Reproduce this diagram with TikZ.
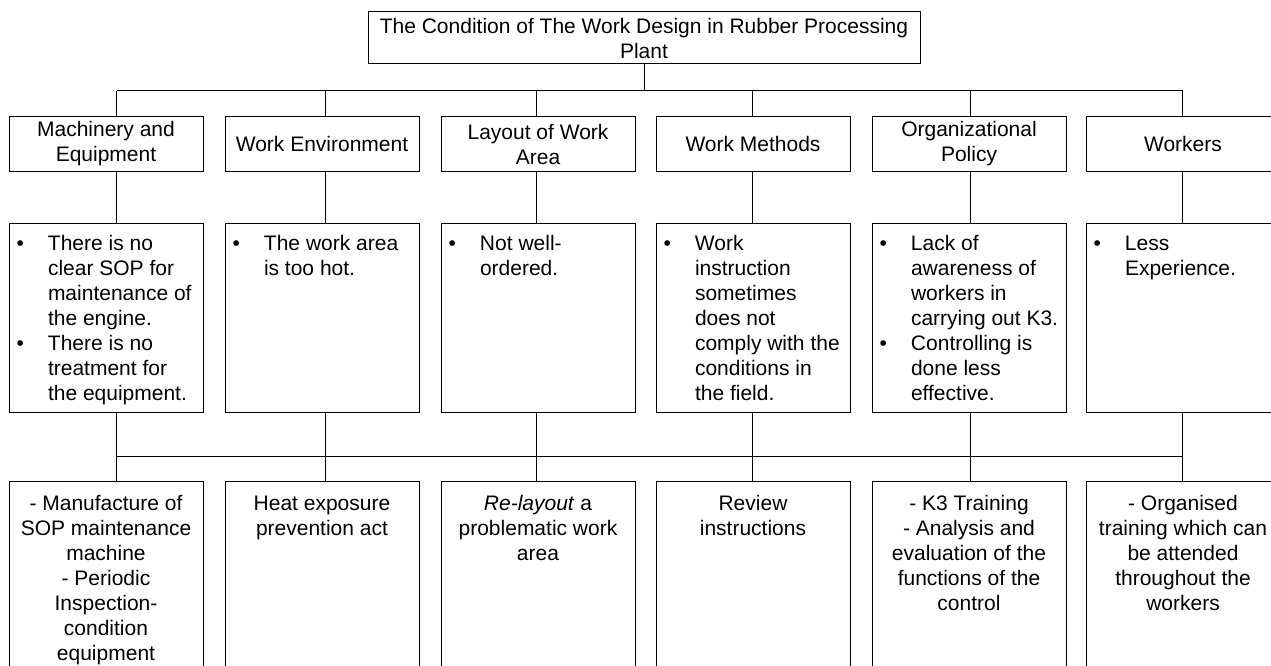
\documentclass[tikz,border=0pt]{standalone}
\usepackage{fontspec}
\setmainfont{Liberation Sans}
\newcommand\diafont{\fontsize{21}{25}\selectfont}
\newcommand\bul{\llap{\textbullet\hspace{24pt}}}
\begin{document}
\begin{tikzpicture}[x=1pt,y=-1pt,
  every node/.style={inner sep=0pt,outer sep=0pt},
  frame/.style={draw=black,line width=1pt,anchor=north west,inner sep=0pt},
  head/.style={frame,minimum width=194pt,minimum height=54pt,font=\diafont,align=center},
  midbox/.style={frame,minimum width=194pt,minimum height=189pt},
  lowbox/.style={frame,minimum width=194pt,minimum height=260pt},
  bullettext/.style={anchor=north west,font=\diafont,align=left},
  centertext/.style={anchor=north,font=\diafont,align=center},
  conn/.style={draw=black,line width=1pt}]
\useasboundingbox (0,0) rectangle (1271,666);

% top
\node[frame,minimum width=552pt,minimum height=52pt,font=\diafont,align=center] (top) at (368,12)
  {The Condition of The Work Design in Rubber Processing\\Plant};

% column positions
\coordinate (bus1) at (0,90.7);
\coordinate (bus2) at (0,456);
\coordinate (k1) at (116.5,0);
\coordinate (k2) at (325.5,0);
\coordinate (k3) at (536.5,0);
\coordinate (k4) at (752,0);
\coordinate (k5) at (970,0);
\coordinate (k6) at (1182.5,0);

% level 2
\node[head] (m1) at (9,117) {Machinery and\\Equipment};
\node[head] (m2) at (225,117) {Work Environment};
\node[head] (m3) at (441,117) {Layout of Work\\Area};
\node[head] (m4) at (656,117) {Work Methods};
\node[head] (m5) at (872,117) {Organizational\\Policy};
\node[head] (m6) at (1086,117) {Workers};

% level 3
\node[midbox] (p1) at (9,223) {};
\node[midbox] (p2) at (225,223) {};
\node[midbox] (p3) at (441,223) {};
\node[midbox] (p4) at (656,223) {};
\node[midbox] (p5) at (872,223) {};
\node[midbox] (p6) at (1086,223) {};

\node[bullettext] (pt1) at (48,232.5) {\strut\bul There is no\\clear SOP for\\maintenance of\\the engine.\\\bul There is no\\treatment for\\the equipment.};
\node[bullettext] (pt2) at (264,232.5) {\strut\bul The work area\\is too hot.};
\node[bullettext] (pt3) at (480,232.5) {\strut\bul Not well-\\ordered.};
\node[bullettext] (pt4) at (695,232.5) {\strut\bul Work\\instruction\\sometimes\\does not\\comply with the\\conditions in\\the field.};
\node[bullettext] (pt5) at (911,232.5) {\strut\bul Lack of\\awareness of\\workers in\\carrying out K3.\\\bul Controlling is\\done less\\effective.};
\node[bullettext] (pt6) at (1125,232.5) {\strut\bul Less\\Experience.};

% level 4
\node[lowbox] (s1) at (9,481) {};
\node[lowbox] (s2) at (225,481) {};
\node[lowbox] (s3) at (441,481) {};
\node[lowbox] (s4) at (656,481) {};
\node[lowbox] (s5) at (872,481) {};
\node[lowbox] (s6) at (1086,481) {};

\node[centertext] (st1) at (s1.north |- 0,492.5) {\strut- Manufacture of\\SOP maintenance\\machine\\- Periodic\\Inspection-\\condition\\equipment};
\node[centertext] (st2) at (s2.north |- 0,492.5) {\strut Heat exposure\\prevention act};
\node[centertext] (st3) at (s3.north |- 0,492.5) {\strut\textit{Re-layout} a\\problematic work\\area};
\node[centertext] (st4) at (s4.north |- 0,492.5) {\strut Review\\instructions};
\node[centertext] (st5) at (s5.north |- 0,492.5) {\strut- K3 Training\\- Analysis and\\evaluation of the\\functions of the\\control};
\node[centertext] (st6) at (s6.north |- 0,492.5) {\strut- Organised\\training which can\\be attended\\throughout the\\workers};

% connectors
\draw[conn] (top.south) -- (top.south |- bus1);
\draw[conn] (k1 |- bus1) -- (k6 |- bus1);
\draw[conn] (k1 |- bus2) -- (k6 |- bus2);
\foreach \i in {1,...,6}{
  \draw[conn] (k\i |- bus1) -- (k\i |- m\i.north);
  \draw[conn] (k\i |- m\i.south) -- (k\i |- p\i.north);
  \draw[conn] (k\i |- p\i.south) -- (k\i |- bus2);
  \draw[conn] (k\i |- bus2) -- (k\i |- s\i.north);
}
\end{tikzpicture}
\end{document}
